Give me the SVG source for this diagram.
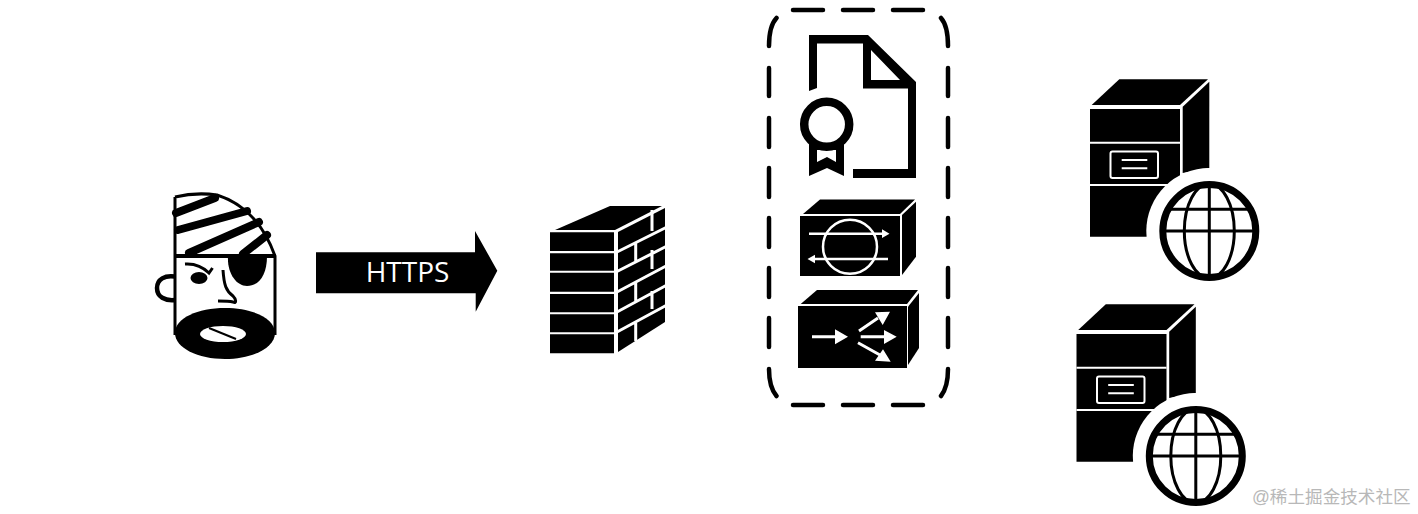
<svg xmlns="http://www.w3.org/2000/svg" xmlns:xlink="http://www.w3.org/1999/xlink" width="1418" height="514" viewBox="0 0 1418 514">
<style>
.k{fill:#000}
.w{fill:#fff}
.ws{fill:none;stroke:#fff;stroke-width:3}
.ks{fill:none;stroke:#000}
.hat{stroke-width:8;stroke-linecap:round}
</style>
<defs>
<g id="server">
<polygon class="k" points="1090,109 1180,109 1180,236.7 1090,236.7"/>
<polygon class="k" points="1091.7,105 1119.3,79.3 1208,79.3 1180,105"/>
<polygon class="k" points="1182.7,106.7 1209.3,81.7 1209.3,168 1182.7,173"/>
<path class="ws" style="stroke-width:2" d="M1090,142.7H1180M1090,185H1180"/>
<rect x="1110.5" y="151.5" width="47.5" height="26.5" rx="2" class="ws" style="stroke-width:2"/>
<path class="ws" style="stroke-width:2" d="M1121.7,160H1147.3M1121.7,168.3H1147.3"/>
<circle cx="1209.3" cy="231" r="63" class="w"/>
<circle cx="1209.3" cy="231" r="46.5" class="ks" stroke-width="7"/>
<ellipse cx="1209.3" cy="231" rx="25" ry="47" class="ks" stroke-width="3"/>
<path class="ks" stroke-width="3" d="M1209.3,184V278M1163,231H1255.6M1169,209.3H1249.6"/>
</g>
</defs>
<rect width="1418" height="514" fill="#fff"/>

<g id="attacker">
<path class="ks" stroke-width="4.500" d="M175,276.500C165,275 157,279 157,288C157,297 165,301 175,300"/>
<path class="ks" stroke-width="3" d="M175,197Q196,192 217,195Q258,208 275,256V335M175,197V335"/>
<rect x="174" y="254" width="102" height="4" class="k"/>
<path class="ks hat" d="M176,213L215,198M178,230L247,211M189,253L259,222M243,254L267,235"/>
<path class="k" d="M228,256H267C267,275 259,286 247,286C236,286 227,273 228,256Z"/>
<ellipse cx="199" cy="278" rx="8.500" ry="6" class="k"/>
<path class="ks" stroke-width="3" d="M185,264Q199,263 209,273L212.500,268"/>
<path class="ks" stroke-width="3" d="M223,270C224,285 226,291 233,296C236,299 237,304 233,302C229,301 223,301 218,301"/>
<path class="k" d="M175,333C175,318 198,308 225,308C252,308 275,318 275,333C275,348 252,359 225,359C198,359 175,348 175,333Z"/>
<ellipse cx="223" cy="334" rx="23" ry="8" class="w"/>
<path class="ks" stroke-width="2" d="M209,328L236,339"/>
</g>

<g id="connectors">
<polygon class="k" points="316,252.300 475,252.300 475,231 497.300,270.700 475.700,311.700 475.700,293.300 316,293.300"/>
<text x="407.500" y="282.300" text-anchor="middle" font-family="Open Sans, sans-serif" font-size="28" class="w">HTTPS</text>
</g>

<g id="firewall">
<polygon class="k" points="555,230 610,206 662,206 615,230"/>
<path class="k" d="M550,232.300H614V251H550ZM550,253.300H614V270.700H550ZM550,272.700H614V291.700H550ZM550,294H614V312.300H550ZM550,314.300H614V332.300H550ZM550,334.300H614V353.300H550Z"/>
<polygon class="k" points="618,232 665,208 665,322 618,352"/>
<path class="ws" d="M617,252L666,227.500M617,271.500L666,246.500M617,292L666,266M617,312L666,285.500M617,332L666,305.500M652,210V231M635.700,243V261M652,250V269M635.700,283V301M652,291V309M635.700,323V341"/>
</g>

<g id="cluster">
<path class="ks" stroke-width="4.500" stroke-linecap="round" d="M793,10H823M843,10H873M893,10H923M793,405H823M843,405H873M893,405H923M941,18Q948,26 948,46M948,68V96M948,118V147M948,168V197M948,218V247M948,268V297M948,318V347M948,369Q948,387 941,396M776.500,18Q769,26 769,46M769,68V96M769,118V147M769,168V197M769,218V247M769,268V297M769,318V347M769,369Q769,387 776.500,396"/>
</g>

<g id="certificate">
<path class="k" fill-rule="evenodd" d="M809,91L817,88V43.500H863V88.500H908V169H853V178H916V82L868,35H809ZM871,50L900,80H871Z"/>
<circle cx="826.700" cy="124.300" r="22.500" class="ks" stroke-width="8.500"/>
<path class="k" fill-rule="evenodd" d="M809,143V176L827,168L844,176V143ZM817,150V162L827,157L836,162V150Z"/>
</g>

<g id="vpn-gateway">
<polygon class="k" points="800,216 900,216 900,276 800,276"/>
<polygon class="k" points="803,214 820,199.500 915,199.500 900,214"/>
<polygon class="k" points="902,215 916,201.700 916,256.700 902,275"/>
<circle cx="850" cy="246.700" r="27" class="ws" style="stroke-width:2.500"/>
<path class="ws" style="stroke-width:2.500" d="M809,233.700H884M888,259H813"/>
<path class="w" d="M882,229.300L889.500,233.700L882,238ZM815,254.700L807.500,259L815,263.300Z"/>
</g>

<g id="load-balancer">
<polygon class="k" points="798,306 907,306 907,368 798,368"/>
<polygon class="k" points="800.700,304 817,290 918,290 907,304"/>
<polygon class="k" points="908,306.700 919,293 919,348 908,365"/>
<path class="ws" d="M812,336.700H836M860.700,336.700H885M859,331L878,318M858,342.700L880,355"/>
<path class="w" d="M835,329.300L848,336.700L835,344.300ZM884,330L896.700,336.700L884,344ZM875,312.300L890,311.700L882.700,325ZM875,360.700L890.700,361.700L883,349.300Z"/>
</g>

<g id="server-1"><use href="#server" xlink:href="#server"/></g>
<g id="server-2" transform="translate(-13.500,225)"><use href="#server" xlink:href="#server"/></g>

<text x="1252" y="503" font-family="Liberation Sans, Noto Sans CJK SC, sans-serif" font-size="17.600" fill="#b8b8b8">@稀土掘金技术社区</text>
</svg>
